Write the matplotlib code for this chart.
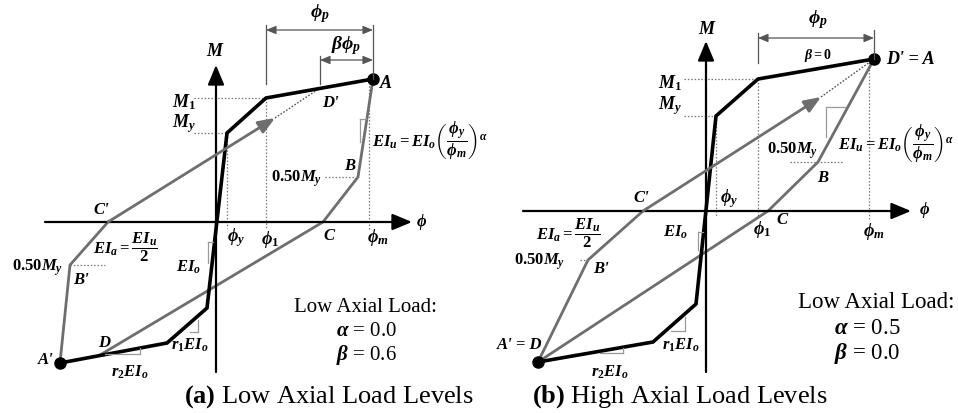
import matplotlib
matplotlib.use("Agg")
import matplotlib.pyplot as plt

plt.rcParams['font.family'] = ['Liberation Serif', 'DejaVu Serif']
plt.rcParams['mathtext.fontset'] = 'custom'
plt.rcParams['mathtext.it'] = 'Liberation Serif:bold:italic'
plt.rcParams['mathtext.rm'] = 'Liberation Serif:bold'
plt.rcParams['mathtext.bf'] = 'Liberation Serif:bold'

# ---------------- data (pixel coordinates) -------------
# Panel (a): low axial load
a_origin = (216, 222)
a_axis_xmin, a_axis_xmax = 45, 412
a_axis_ytop, a_axis_ybot = 65, 372
a_back_x = [60, 167, 207, 227, 266, 373]
a_back_y = [363, 343, 308, 133, 98, 79]
a_unload_x = [373, 358, 323, 100]
a_unload_y = [79, 177, 222, 355]
a_reload_x = [60, 70, 108, 275]
a_reload_y = [363, 265, 222, 118]
a_dpt = (320, 88)            # D'
a_phi_y, a_phi_1, a_phi_m = 227, 266, 369
a_My, a_M1, a_half = 133, 98, 177
a_half_neg = 265
a_alpha, a_beta = '0.0', '0.6'

# Panel (b): high axial load
b_origin = (706, 211)
b_axis_xmin, b_axis_xmax = 523, 911
b_axis_ytop, b_axis_ybot = 41, 372
b_back_x = [538, 653, 696, 716, 758, 874]
b_back_y = [362, 342, 304, 116, 79, 59]
b_unload_x = [874, 818, 768, 538]
b_unload_y = [59, 162, 211, 362]
b_reload_x = [538, 588, 643, 821]
b_reload_y = [362, 260, 211, 97]
b_dpt = (874, 59)
b_phi_y, b_phi_1, b_phi_m = 716, 758, 869
b_My, b_M1, b_half = 116, 79, 162
b_half_neg = 260
b_alpha, b_beta = '0.5', '0.0'

GRAY = '#6e6e6e'
EIU = r'$EI_u = EI_o\left(\dfrac{\phi_y}{\phi_m}\right)^{\alpha}$'
EIA = r'$EI_a = \dfrac{EI_u}{2}$'

fig = plt.figure(figsize=(9.58, 4.13), dpi=100)
ax = fig.add_axes([0, 0, 1, 1])
ax.set_xlim(0, 958)
ax.set_ylim(413, 0)
ax.axis('off')


def arrow(x0, y0, x1, y1, color='black', lw=1.8, hw=5, hl=9):
    ax.annotate('', xy=(x1, y1), xytext=(x0, y0),
                arrowprops=dict(arrowstyle='-|>,head_width=%g,head_length=%g' % (hw / 10, hl / 10),
                                color=color, lw=lw, shrinkA=0, shrinkB=0,
                                mutation_scale=10))


def dim(x0, x1, y):
    ax.annotate('', xy=(x1, y), xytext=(x0, y),
                arrowprops=dict(arrowstyle='<|-|>,head_width=0.25,head_length=0.6',
                                color='#555555', lw=0.9, shrinkA=0, shrinkB=0,
                                mutation_scale=10))


def dotted(xs, ys):
    ax.plot(xs, ys, color='#777777', lw=0.9, ls=(0, (1.2, 1.5)))


def marker(xs, ys):
    ax.plot(xs, ys, color='#999999', lw=0.9)


def lab(x, y, s, size=12, ha='center', va='center', **kw):
    ax.text(x, y, s, fontsize=size, ha=ha, va=va, fontweight='bold',
            fontstyle='italic', **kw)


def panel(o, axx, axy, back, unload, reload, dpt, phis, Ms):
    ox, oy = o
    arrow(axx[0], oy, axx[1], oy, lw=1.6, hw=5, hl=12)
    arrow(ox, axy[1], ox, axy[0], lw=1.6, hw=5, hl=12)
    phi_y, phi_1, phi_m = phis
    My, M1 = Ms
    dotted([phi_y, phi_y], [My, oy + 6])
    dotted([phi_1, phi_1], [M1, oy + 6])
    dotted([phi_m, phi_m], [back[1][-1], oy + 8])
    dotted([ox - 22, back[0][3]], [My, My])
    dotted([ox - 22, back[0][4]], [M1, M1])
    ax.plot(unload[0], unload[1], color=GRAY, lw=2.0, solid_joinstyle='miter')
    ax.plot(reload[0][:-1], reload[1][:-1], color=GRAY, lw=2.0, solid_joinstyle='miter')
    arrow(reload[0][-2], reload[1][-2], reload[0][-1], reload[1][-1], color=GRAY, lw=2.0, hw=4, hl=10)
    ax.plot([reload[0][-1], dpt[0]], [reload[1][-1], dpt[1]], color='#555555', lw=1.0,
            ls=(0, (1.2, 1.2)))
    ax.plot(back[0], back[1], color='black', lw=2.6, solid_joinstyle='miter')
    ax.plot([back[0][0], back[0][-1]], [back[1][0], back[1][-1]], 'o', color='black', ms=8)


# ---------------- panel (a) ----------------
panel(a_origin, (a_axis_xmin, a_axis_xmax), (a_axis_ytop, a_axis_ybot),
      (a_back_x, a_back_y), (a_unload_x, a_unload_y), (a_reload_x, a_reload_y),
      a_dpt, (a_phi_y, a_phi_1, a_phi_m), (a_My, a_M1))
dotted([325, a_unload_x[1]], [a_half, a_half])
dotted([a_reload_x[1], 105], [a_half_neg, a_half_neg])
ax.plot([a_phi_1, a_phi_1], [25, 84], color='#555555', lw=0.9)
ax.plot([373, 373], [25, 79], color='#555555', lw=0.9)
ax.plot([a_dpt[0], a_dpt[0]], [56, 84], color='#555555', lw=0.9)
dim(a_phi_1, 373, 30)
dim(a_dpt[0], 373, 60)
marker([360, 366], [119, 119]); marker([360, 360], [119, 142])
marker([208, 213], [242, 242]); marker([208, 208], [242, 263])
marker([190, 198], [332, 332]); marker([198, 198], [320, 332])
marker([105, 140], [354, 354]); marker([140, 140], [348, 354])

lab(215, 52, r'$M$', 13)
lab(320, 14, r'$\phi_p$', 14)
lab(346, 46, r'$\beta\phi_p$', 14)
lab(386, 84, 'A', 13)
lab(330, 103, "D'", 12)
lab(184, 102, r'$M_1$', 13)
lab(184, 124, r'$M_y$', 13)
lab(350, 166, 'B', 12)
lab(297, 179, r'$0.50M_y$', 12)
lab(372, 141, EIU, 12, ha='left')
lab(101, 210, "C'", 12)
lab(329, 236, 'C', 12)
lab(236, 238, r'$\phi_y$', 13)
lab(270, 240, r'$\phi_1$', 13)
lab(378, 238, r'$\phi_m$', 13)
lab(422, 222, r'$\phi$', 12)
lab(125, 247, EIA, 12)
lab(38, 268, r'$0.50M_y$', 12)
lab(81, 280, "B'", 12)
lab(189, 267, r'$EI_o$', 12)
lab(104, 343, 'D', 12)
lab(46, 360, "A'", 12)
lab(130, 372, r'$r_2EI_o$', 12)
lab(190, 345, r'$r_1EI_o$', 12)
ax.text(366, 308, 'Low Axial Load:', fontsize=15, ha='center', va='center')
ax.text(366, 331, r'$\alpha$ = ' + a_alpha, fontsize=15, ha='center', va='center')
ax.text(366, 355, r'$\beta$ = ' + a_beta, fontsize=15, ha='center', va='center')
ax.text(329, 397, r'$\mathbf{(a)}$ Low Axial Load Levels', fontsize=19, ha='center', va='center')

# ---------------- panel (b) ----------------
panel(b_origin, (b_axis_xmin, b_axis_xmax), (b_axis_ytop, b_axis_ybot),
      (b_back_x, b_back_y), (b_unload_x, b_unload_y), (b_reload_x, b_reload_y),
      b_dpt, (b_phi_y, b_phi_1, b_phi_m), (b_My, b_M1))
dotted([790, 843], [b_half, b_half])
dotted([580, b_reload_x[1]], [b_half_neg, b_half_neg])
ax.plot([b_phi_1, b_phi_1], [33, 63], color='#555555', lw=0.9)
ax.plot([874, 874], [30, 59], color='#555555', lw=0.9)
dim(b_phi_1, 874, 38)
marker([826, 845], [107, 107]); marker([826, 826], [107, 137])
marker([698, 703], [232, 232]); marker([698, 698], [232, 250])
marker([671, 685], [331, 331]); marker([685, 685], [317, 331])
marker([600, 623], [353, 353]); marker([623, 623], [348, 353])

lab(707, 30, r'$M$', 13)
lab(818, 20, r'$\phi_p$', 14)
lab(818, 55, r'$\beta = 0$', 10)
lab(910, 59, "D' = A", 13)
lab(670, 83, r'$M_1$', 13)
lab(670, 106, r'$M_y$', 13)
lab(729, 199, r'$\phi_y$', 13)
lab(793, 151, r'$0.50M_y$', 12)
lab(823, 178, 'B', 12)
lab(838, 144, EIU, 12, ha='left')
lab(641, 198, "C'", 12)
lab(762, 230, r'$\phi_1$', 13)
lab(782, 220, 'C', 12)
lab(874, 232, r'$\phi_m$', 13)
lab(925, 210, r'$\phi$', 12)
lab(568, 233, EIA, 12)
lab(540, 262, r'$0.50M_y$', 12)
lab(601, 269, "B'", 12)
lab(676, 232, r'$EI_o$', 12)
lab(520, 345, "A' = D", 12)
lab(610, 372, r'$r_2EI_o$', 12)
lab(681, 345, r'$r_1EI_o$', 12)
ax.text(876, 302, 'Low Axial Load:', fontsize=16.5, ha='center', va='center')
ax.text(867, 328, r'$\alpha$ = ' + b_alpha, fontsize=16.5, ha='center', va='center')
ax.text(867, 354, r'$\beta$ = ' + b_beta, fontsize=16.5, ha='center', va='center')
ax.text(680, 397, r'$\mathbf{(b)}$ High Axial Load Levels', fontsize=19, ha='center', va='center')

fig.savefig('out.png', dpi=100)
